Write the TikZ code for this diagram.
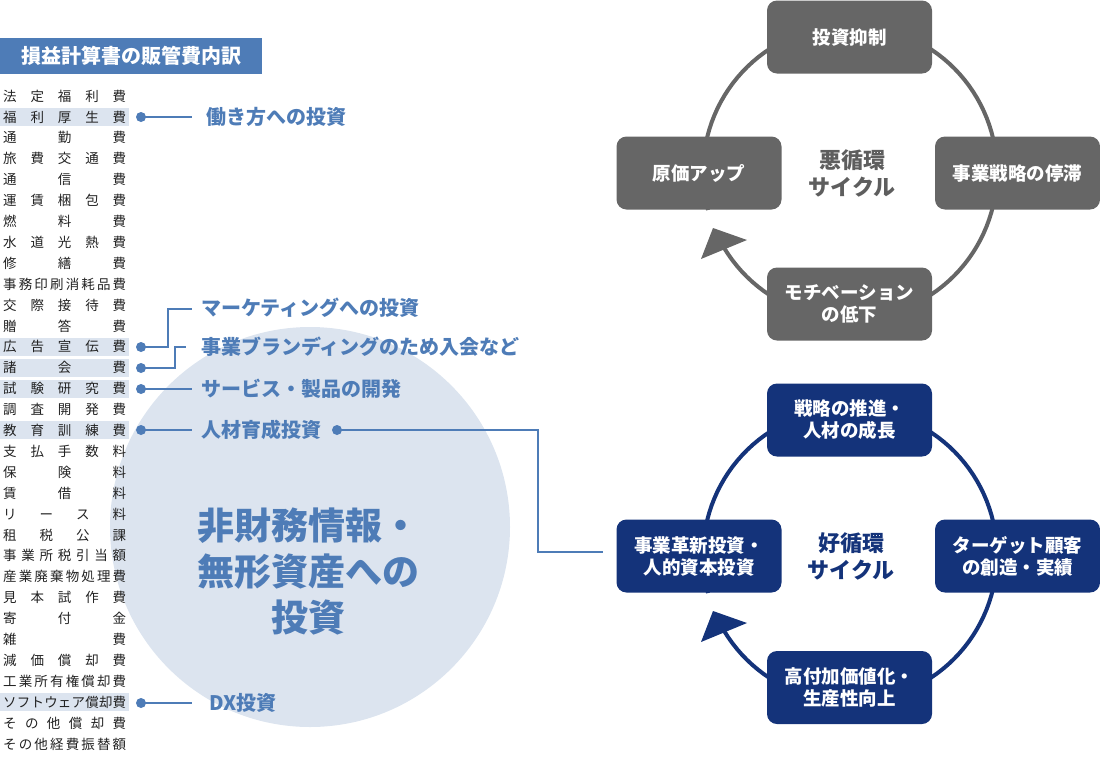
\documentclass[tikz,border=0pt]{standalone}
\usepackage{fontspec}
\setmainfont{Noto Sans CJK JP}
\usetikzlibrary{calc}
\definecolor{lblue}{HTML}{4E7CB7}
\definecolor{pale}{HTML}{DCE4EF}
\definecolor{gbox}{HTML}{666666}
\definecolor{navy}{HTML}{14337A}
\definecolor{inkc}{HTML}{222222}
\newcommand\fs[2]{\fontsize{#1}{#2}\selectfont}
\def\myspread#1#2\relax{#1\myspreadrest#2\relax}
\def\myspreadrest#1{\ifx\relax#1\else\hfill#1\expandafter\myspreadrest\fi}
\tikzset{
  rowtext/.style={anchor=west, inner sep=0pt, font=\fs{13.5}{14}, text=inkc},
  lab/.style={anchor=west, inner sep=0pt, font=\bfseries\fs{20}{22}, text=lblue},
  dotn/.style={circle, fill=lblue, minimum size=10pt, inner sep=0pt},
  conn/.style={draw=lblue, line width=2pt},
  badbox/.style={fill=gbox, rounded corners=10pt, minimum width=165pt, minimum height=73pt, inner sep=0pt, text=white, font=\bfseries\fs{18.5}{22}, align=center},
  goodbox/.style={badbox, fill=navy},
  ctext/.style={font=\bfseries\fs{22}{27}, align=center, inner sep=0pt},
}
\begin{document}
\begin{tikzpicture}[x=1pt, y=-1pt]
\useasboundingbox (0,0) rectangle (1100,764);
% background circle
\node[circle, fill=pale, minimum size=400pt, inner sep=0pt] (bg) at (310,527) {};
\node[font=\bfseries\fs{37}{46}, text=lblue, align=center] (big) at (308,571) {非財務情報・\\無形資産への\\投資};
% header
\node[fill=lblue, minimum width=262pt, minimum height=36pt, inner sep=0pt, text=white, font=\bfseries\fs{20}{22}] (hd) at (131,56) {損益計算書の販管費内訳};
% highlight bars
\foreach \i in {2,13,14,15,17,30}
  \fill[pale] (0,{96+(\i-1)*20.9-9}) rectangle (129,{96+(\i-1)*20.9+9});
% list
\foreach \t [count=\i] in {法定福利費,福利厚生費,通勤費,旅費交通費,通信費,運賃梱包費,燃料費,水道光熱費,修繕費,事務印刷消耗品費,交際接待費,贈答費,広告宣伝費,諸会費,試験研究費,調査開発費,教育訓練費,支払手数料,保険料,賃借料,リース料,租税公課,事業所税引当額,産業廃棄物処理費,見本試作費,寄付金,雑費,減価償却費,工業所有権償却費,ソフトウェア償却費,その他償却費,その他経費振替額}
  \node[rowtext] (r\i) at (3,{96+(\i-1)*20.9}) {\hbox to 123pt{\expandafter\myspread\t\relax}};
% dots and labels
\node[dotn] (p1) at (141,117) {};
\node[dotn] (p2) at (141,347) {};
\node[dotn] (p3) at (141,368) {};
\node[dotn] (p4) at (141,389) {};
\node[dotn] (p5) at (141,430) {};
\node[dotn] (p6) at (141,703) {};
\node[dotn] (p7) at (337,430) {};
\node[lab] (l1) at (206,117) {働き方への投資};
\node[lab] (l2) at (201,308) {マーケティングへの投資};
\node[lab] (l3) at (201,347) {事業ブランディングのため入会など};
\node[lab] (l4) at (201,389) {サービス・製品の開発};
\node[lab] (l5) at (201,430) {人材育成投資};
\node[lab] (l6) at (209,703) {DX投資};
\coordinate (e1) at (192,117);
\coordinate (e2) at (192,309);
\coordinate (e3) at (186,347);
\coordinate (e4) at (192,389);
\coordinate (e5) at (192,430);
\coordinate (e6) at (192,703);
\coordinate (e7) at (603,552);
\draw[conn] (p1.center) -- (e1);
\draw[conn] (p2.center) -- (168,347) |- (e2);
\draw[conn] (p3.center) -- (175,368) |- (e3);
\draw[conn] (p4.center) -- (e4);
\draw[conn] (p5.center) -- (e5);
\draw[conn] (p6.center) -- (e6);
\draw[conn] (p7.center) -- (538,430) |- (e7);
% bad cycle
\draw[draw=gbox, line width=4pt] plot[domain=165:509, samples=120] ({850+147*cos(\x)},{172+147*sin(\x)});
\fill[gbox] (713,228) -- (747,240) -- (701,259) -- cycle;
\node[badbox] (b1) at (849.5,37) {投資抑制};
\node[badbox] (b2) at (1017.5,173) {事業戦略の停滞};
\node[badbox] (b3) at (849.5,304) {モチベーション\\の低下};
\node[badbox] (b4) at (699,173) {原価アップ};
\node[ctext, text=gbox!92!black] (bc) at (852,173) {悪循環\\サイクル};
% good cycle
\draw[draw=navy, line width=4pt] plot[domain=165:509, samples=120] ({850+147*cos(\x)},{555+147*sin(\x)});
\fill[navy] (713,611) -- (747,623) -- (701,642) -- cycle;
\node[goodbox] (g1) at (849.5,420) {戦略の推進・\\人材の成長};
\node[goodbox] (g2) at (1017.5,556) {ターゲット顧客\\の創造・実績};
\node[goodbox] (g3) at (849.5,687.5) {高付加価値化・\\生産性向上};
\node[goodbox] (g4) at (699,556) {事業革新投資・\\人的資本投資};
\node[ctext, text=navy] (gc) at (851,556) {好循環\\サイクル};
\end{tikzpicture}
\end{document}
